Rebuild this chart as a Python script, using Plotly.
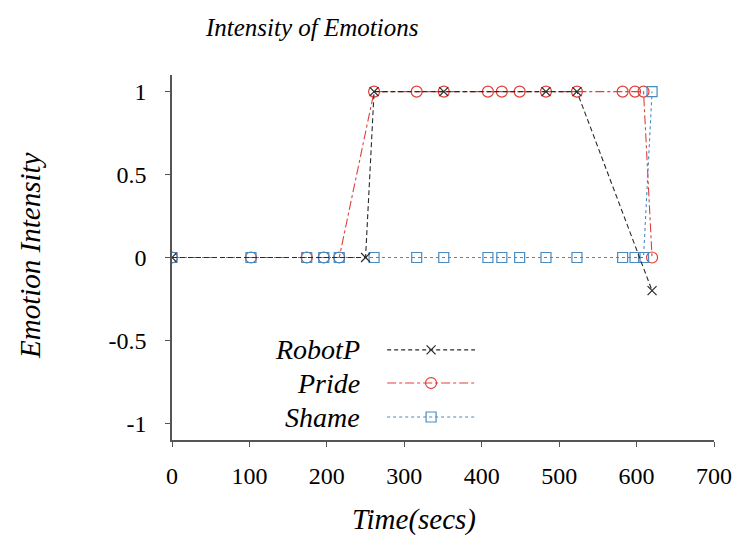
import plotly.graph_objects as go

# time stamps (secs) of the logged events
time_robot = [0, 250, 261, 351, 483, 523, 620]
robot_p = [0, 0, 1, 1, 1, 1, -0.2]

time_pride = [0, 102, 174, 196, 216, 261, 316, 351, 408, 426, 449, 483, 523, 582, 598, 609, 620]
pride = [0, 0, 0, 0, 0, 1, 1, 1, 1, 1, 1, 1, 1, 1, 1, 1, 0]

time_shame = [0, 102, 174, 196, 216, 261, 316, 351, 408, 426, 449, 483, 523, 582, 598, 609, 620]
shame = [0, 0, 0, 0, 0, 0, 0, 0, 0, 0, 0, 0, 0, 0, 0, 0, 1]

x_ticks = [0, 100, 200, 300, 400, 500, 600, 700]
y_ticks = [-1, -0.5, 0, 0.5, 1]
y_tick_text = ['-1', '-0.5', '0', '0.5', '1']

FONT = 'Liberation Serif'
RED = '#e0403a'
BLUE = '#4a8bbf'
BLACK = '#2a2a2a'

series = [
    ('Pride', time_pride, pride, RED, 'dashdot', 'circle-open', 11),
    ('Shame', time_shame, shame, BLUE, 'dot', 'square-open', 10),
    ('RobotP', time_robot, robot_p, BLACK, '5px,3px', 'x-thin-open', 9),
]

fig = go.Figure()
for name, t, v, col, dash, sym, size in series:
    fig.add_trace(go.Scatter(
        x=t, y=v, mode='lines+markers', name=name, showlegend=False,
        line=dict(color=col, width=1.1, dash=dash),
        marker=dict(symbol=sym, size=size, color=col, line=dict(width=1.2, color=col))))

# hand-made legend: label on the left, sample on the right (latex style)
legend_rows = [('RobotP', BLACK, '4px,3px', 'x-thin-open', 9, 0.247),
               ('Pride', RED, 'dashdot', 'circle-open', 11, 0.156),
               ('Shame', BLUE, 'dot', 'square-open', 10, 0.063)]
for name, col, dash, sym, size, yy in legend_rows:
    fig.add_trace(go.Scatter(
        x=[0.397, 0.478, 0.559], y=[yy, yy, yy], xaxis='x2', yaxis='y2',
        mode='lines', showlegend=False, hoverinfo='skip',
        line=dict(color=col, width=1.1, dash=dash)))
    fig.add_trace(go.Scatter(
        x=[0.478], y=[yy], xaxis='x2', yaxis='y2', mode='markers',
        showlegend=False, hoverinfo='skip',
        marker=dict(symbol=sym, size=size, color=col, line=dict(width=1.2, color=col))))
    fig.add_annotation(x=0.351, y=yy, xref='paper', yref='paper', text=name,
                       showarrow=False, xanchor='right', yanchor='middle',
                       font=dict(family=FONT, size=28, color='black', style='italic'))

axis_common = dict(showgrid=False, zeroline=False, showline=True, linecolor='#555555',
                   linewidth=1.5, ticks='outside', ticklen=5, tickcolor='#555555',
                   automargin=False,
                   tickfont=dict(family=FONT, size=24, color='black'))

# page body has an 8px margin, so the figure is a bit smaller than the window
fig.update_layout(
    width=733, height=540,
    margin=dict(l=164, r=27, t=67, b=108),
    plot_bgcolor='white', paper_bgcolor='white',
    title=dict(text='Intensity of Emotions', x=0.415, xref='container', xanchor='center',
               y=0.965, yref='container', yanchor='middle', automargin=False,
               font=dict(family=FONT, size=25, color='black', style='italic')),
    xaxis=dict(range=[0, 700], tickvals=x_ticks, ticklabelstandoff=8, **axis_common),
    yaxis=dict(range=[-1.1, 1.1], tickvals=y_ticks, ticktext=y_tick_text,
               ticklabelstandoff=14, **axis_common),
    xaxis2=dict(range=[0, 1], overlaying='x', visible=False),
    yaxis2=dict(range=[0, 1], overlaying='y', visible=False),
)

fig.add_annotation(x=0.446, y=-0.219, xref='paper', yref='paper', text='Time(secs)',
                   showarrow=False, xanchor='center', yanchor='middle',
                   font=dict(family=FONT, size=29, color='black', style='italic'))
fig.add_annotation(x=-0.262, y=0.507, xref='paper', yref='paper', text='Emotion Intensity',
                   showarrow=False, textangle=-90, xanchor='center', yanchor='middle',
                   font=dict(family=FONT, size=29, color='black', style='italic'))

fig.write_html('out.html')
